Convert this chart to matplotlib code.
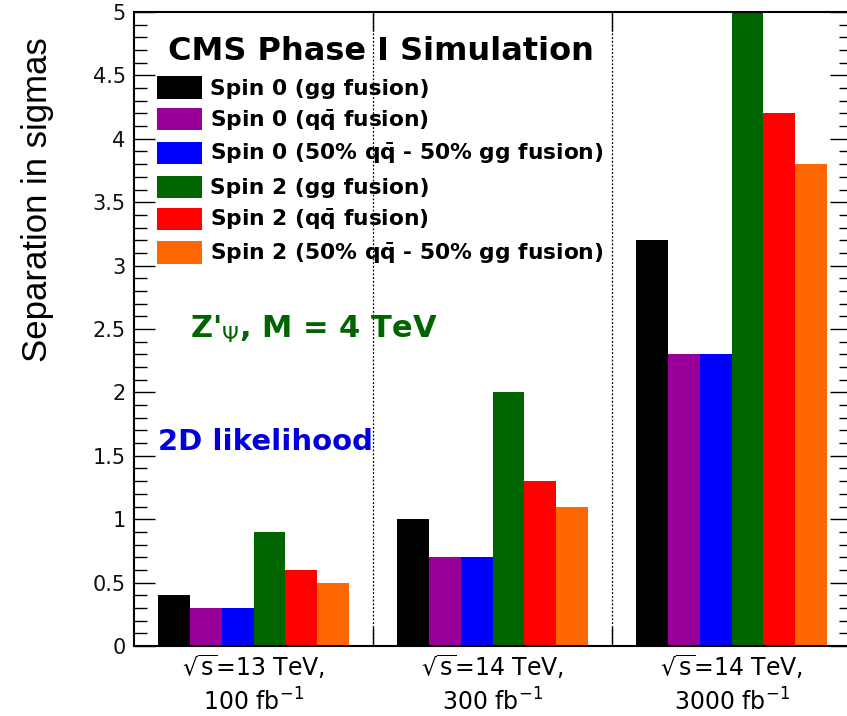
import numpy as np
import matplotlib
matplotlib.use("Agg")
import matplotlib.pyplot as plt
from matplotlib.ticker import MultipleLocator, FixedLocator

plt.rcParams['font.family'] = ['DejaVu Sans']
plt.rcParams['mathtext.fontset'] = 'dejavusans'

# separation (in sigmas) per scenario, one value per collider configuration
energy_lines = [r"$\sqrt{\mathrm{s}}$=13 TeV,", r"$\sqrt{\mathrm{s}}$=14 TeV,", r"$\sqrt{\mathrm{s}}$=14 TeV,"]
lumi_lines = [r"100 fb$^{-1}$", r"300 fb$^{-1}$", r"3000 fb$^{-1}$"]

spin0_gg = [0.4, 1.0, 3.2]
spin0_qq = [0.3, 0.7, 2.3]
spin0_mix = [0.3, 0.7, 2.3]
spin2_gg = [0.9, 2.0, 5.0]
spin2_qq = [0.6, 1.3, 4.2]
spin2_mix = [0.5, 1.1, 3.8]

series_labels = [
    "Spin 0 (gg fusion)",
    r"Spin 0 (q$\mathbf{\bar{q}}$ fusion)",
    r"Spin 0 (50% q$\mathbf{\bar{q}}$ - 50% gg fusion)",
    "Spin 2 (gg fusion)",
    r"Spin 2 (q$\mathbf{\bar{q}}$ fusion)",
    r"Spin 2 (50% q$\mathbf{\bar{q}}$ - 50% gg fusion)",
]
series_colors = ['#000000', '#990099', '#0000ff', '#006400', '#ff0000', '#ff6600']

y_ticks = [0, 0.5, 1, 1.5, 2, 2.5, 3, 3.5, 4, 4.5, 5]
y_tick_labels = ["0", "0.5", "1", "1.5", "2", "2.5", "3", "3.5", "4", "4.5", "5"]

fig = plt.figure(figsize=(8.47, 7.16), dpi=100)
# frame runs slightly past the right edge of the canvas
ax = fig.add_axes([134 / 847, 70 / 716, 717 / 847, 634 / 716])

series = [spin0_gg, spin0_qq, spin0_mix, spin2_gg, spin2_qq, spin2_mix]
n_groups = len(spin0_gg)
bar_width = 0.8 / len(series)
group_x = np.arange(n_groups)

for i, (values, label, color) in enumerate(zip(series, series_labels, series_colors)):
    ax.bar(group_x + 0.1 + i * bar_width, values, width=bar_width, align='edge',
           color=color, label=label, zorder=2)

for boundary in range(1, n_groups):
    ax.axvline(boundary, color='black', lw=0.9, ls=(0, (1.5, 1.5)), zorder=1)

ax.set_xlim(0, n_groups)
ax.set_ylim(0, 5)

ax.set_xticks(group_x + 0.5)
ax.set_xticklabels([a + "\n" + b for a, b in zip(energy_lines, lumi_lines)],
                   fontsize=17, linespacing=1.3)
ax.xaxis.set_minor_locator(FixedLocator(list(range(1, n_groups))))
ax.tick_params(axis='x', which='major', length=0, pad=5)
ax.tick_params(axis='x', which='minor', length=14, width=1, direction='in', top=True, bottom=True)

ax.set_yticks(y_ticks)
ax.set_yticklabels(y_tick_labels, fontsize=15, color='#111111')
ax.yaxis.set_minor_locator(MultipleLocator(0.1))
ax.tick_params(axis='y', which='major', length=15, width=1, direction='in', left=True, right=True, pad=6)
ax.tick_params(axis='y', which='minor', length=9, width=1, direction='in', left=True, right=True)

for spine in ax.spines.values():
    spine.set_linewidth(1.5)

fig.text(38 / 847, 1 - 200 / 716, "Separation in sigmas", rotation=90,
         ha='center', va='center', fontsize=25, family='Liberation Sans')

leg = ax.legend(loc='upper left', bbox_to_anchor=(0.032, 0.962), frameon=False,
                borderpad=0, borderaxespad=0,
                title="CMS Phase I Simulation",
                title_fontproperties={'size': 23, 'weight': 'bold'},
                prop={'size': 15.7, 'weight': 'bold'},
                handlelength=2.05, handleheight=1.2, handletextpad=0.4,
                labelspacing=0.42)

ax.text(0.078, 0.5, r"Z'$_{\Psi}$, M = 4 TeV", transform=ax.transAxes,
        fontsize=22, fontweight='bold', color='#006400', ha='left', va='center')
ax.text(0.0335, 0.322, "2D likelihood", transform=ax.transAxes,
        fontsize=21, fontweight='bold', color='#0000dd', ha='left', va='center')

fig.savefig("out.png", dpi=100)
